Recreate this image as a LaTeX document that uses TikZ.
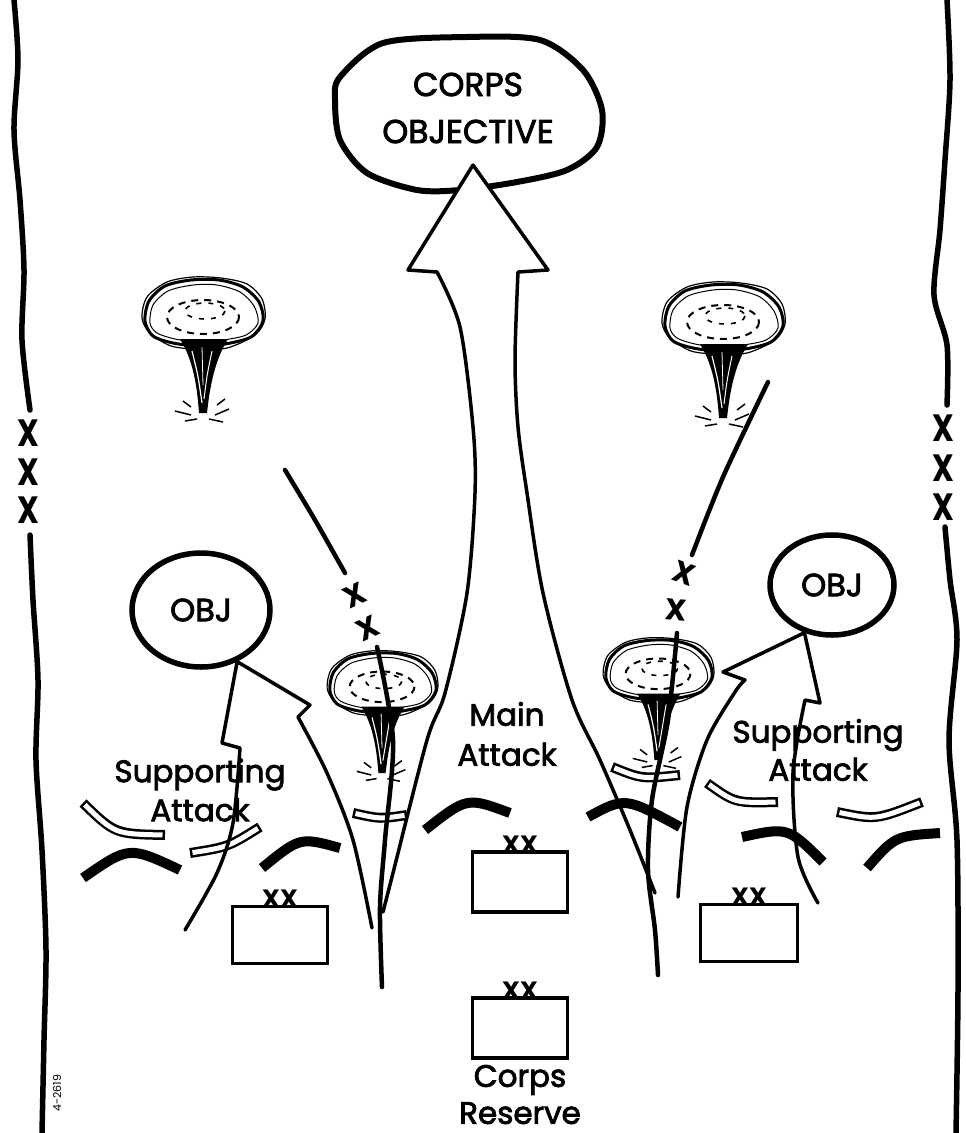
\documentclass[tikz,border=0pt]{standalone}
\usepackage{fontspec}
\setmainfont{Poppins}
\newfontfamily\lettering{Poppins}[FakeBold=2.5]
\usepackage{tikz}
\usetikzlibrary{arrows,
                positioning,
                shapes}
\tikzstyle{border} = [line width=5.5pt, line cap=round]
\tikzstyle{boundary} = [line width=4.5pt, line cap=round]
\tikzstyle{attack} = [line width=3.5pt, line join=round, line cap=round]
\tikzstyle{friendly} = [line width=10pt]
\tikzstyle{enemyout} = [line width=10pt]
\tikzstyle{enemyin} = [white, line width=5pt, shorten <=2.5pt, shorten >=2.5pt]
\tikzstyle{objective} = [ellipse, draw, line width=5.5pt, inner sep=0pt, font=\fontsize{32}{32}\lettering]
\tikzstyle{division} = [rectangle, draw, line width=3.5pt, minimum width=95pt, minimum height=57pt, inner sep=0pt]
\tikzstyle{divmark} = [inner sep=0pt, font=\fontsize{25}{25}\selectfont\bfseries]
\tikzstyle{corpsmark} = [inner sep=0pt, xscale=0.8, font=\fontsize{38}{38}\selectfont\bfseries]
\tikzstyle{boundx} = [inner sep=0pt, font=\fontsize{30}{30}\selectfont\bfseries]
\tikzstyle{words} = [align=center, inner sep=0pt, font=\fontsize{31}{40}\lettering]

% hollow arc for the enemy positions
\newcommand{\enemyarc}[3]{%
    \draw [enemyout] #1 .. controls #2 .. #3;
    \draw [enemyin] #1 .. controls #2 .. #3;}

% nuclear burst, centred on the cap
\newcommand{\mushroom}[3]{%
    \begin{scope}[shift={(#1,#2)}, scale=#3]
        \draw [line width=3pt] plot [smooth cycle] coordinates {(-58,6) (-54,-14) (-38,-29) (-12,-35) (16,-35) (40,-28)
            (56,-13) (60,6) (48,22) (22,29) (-4,31) (-30,28) (-50,21)};
        \draw [line width=1.2pt] plot [smooth cycle] coordinates {(-61,3) (-56,-18) (-36,-33) (-10,-38) (18,-37) (44,-31)
            (59,-16) (62,4) (52,20) (24,33) (-6,34) (-32,31) (-53,18)};
        \draw [line width=1pt] plot [smooth cycle] coordinates {(-53,8) (-50,-10) (-35,-24) (-10,-30) (14,-30) (37,-23)
            (51,-9) (55,8) (43,20) (20,25) (-5,27) (-28,24) (-46,18)};
        \draw [line width=2pt, dash pattern=on 7pt off 6pt] (0,2) ellipse (36 and 17);
        \draw [line width=1.6pt, dash pattern=on 5pt off 7pt] (2,-4) ellipse (20 and 8);
        \fill (-23,24) .. controls (-10,45) and (-6,70) .. (-4,98)
            -- (4,98) .. controls (7,70) and (12,45) .. (25,24) -- cycle;
        \draw [white, line width=1.2pt] (-11,36) .. controls (-5,60) .. (-1,88);
        \draw [white, line width=1pt] (9,36) .. controls (4,60) .. (1,84);
        \draw [white, line width=0.8pt] (-1,32) -- (0,70);
        \draw [line width=1.5pt] (-28,96) -- (-12,100) (12,100) -- (26,94)
            (-18,106) -- (-6,104) (6,104) -- (20,107) (-20,86) -- (-12,92) (14,90) -- (22,84);
    \end{scope}}

\begin{document}
\begin{tikzpicture}[x=1pt, y=-1pt]
    \useasboundingbox (0,0) rectangle (966,1133);

    % corps boundaries
    \draw [border] plot [smooth] coordinates {(14,0) (18,60) (14,130) (20,200) (24,270) (22,340) (30,410)};
    \draw [border] plot [smooth] coordinates {(30,535) (33,600) (38,680) (36,760) (42,850) (46,950) (44,1040) (42,1133)};
    \draw [border] plot [smooth] coordinates {(947,0) (950,80) (945,160) (940,230) (934,295) (947,345) (947,405)};
    \draw [border] plot [smooth] coordinates {(945,527) (950,580) (957,640) (949,740) (957,840) (958,990) (956,1133)};
    \node [corpsmark] (lx1) at (28,433) {X};
    \node [corpsmark] (lx2) at (28,472) {X};
    \node [corpsmark] (lx3) at (28,510) {X};
    \node [corpsmark] (rx1) at (943,428) {X};
    \node [corpsmark] (rx2) at (943,468) {X};
    \node [corpsmark] (rx3) at (943,507) {X};
    \node [rotate=90, inner sep=0pt, font=\fontsize{11}{11}\selectfont] (figno) at (57,1093) {4-2619};

    % corps objective
    \draw [line width=6pt] plot [smooth cycle] coordinates {(340,77) (383,43) (467,37) (540,40) (583,70) (602,110)
        (597,147) (567,170) (517,182) (460,190) (417,190) (367,173) (340,140) (335,100)};
    \node [words, font=\fontsize{33}{47}\lettering] (corpsobj) at (468,108) {CORPS\\OBJECTIVE};
    \coordinate (maintip) at (473,165);
    \fill [white] (408,270) -- (maintip) -- (548,270) -- cycle;

    % forward positions
    \draw [friendly] (83,878) .. controls (129,846) .. (180,870);
    \draw [friendly] (262,868) .. controls (300,837) .. (340,848);
    \draw [friendly] (425,830) .. controls (467,797) .. (510,813);
    \draw [friendly] (588,817) .. controls (625,797) .. (680,827);
    \draw [friendly] (742,837) .. controls (788,827) .. (823,862);
    \draw [friendly] (867,868) .. controls (895,836) .. (940,833);
    \enemyarc{(83,803)}{(115,834)}{(165,835)}
    \enemyarc{(190,853)}{(228,847)}{(260,827)}
    \enemyarc{(353,813)}{(380,819)}{(407,815)}
    \enemyarc{(612,767)}{(642,779)}{(680,775)}
    \enemyarc{(707,783)}{(735,803)}{(778,802)}
    \enemyarc{(837,812)}{(876,820)}{(922,802)}

    % main attack
    \draw [attack] plot [smooth] coordinates {(383,912) (393,873) (427,740) (445,693) (467,593) (475,493) (473,427) (460,327) (437,272)}
        -- (408,270) -- (maintip) -- (548,270)
        -- plot [smooth] coordinates {(518,272) (515,360) (518,427) (527,493) (543,593) (572,700) (600,760) (630,830) (655,893)};

    % bursts
    \mushroom{203}{315}{1}
    \mushroom{723}{320}{1}
    \mushroom{382}{685}{0.9}
    \mushroom{658}{672}{0.9}

    % division boundaries
    \draw [boundary] plot [smooth] coordinates {(285,470) (315,520) (345,573)};
    \node [boundx, rotate=25] (blx1) at (355,595) {X};
    \node [boundx, rotate=25] (blx2) at (368,628) {X};
    \draw [boundary] plot [smooth] coordinates {(377,647) (393,740) (385,840) (380,907) (382,987)};
    \draw [boundary] plot [smooth] coordinates {(768,382) (723,477) (692,555)};
    \node [boundx, rotate=-20] (brx1) at (684,573) {X};
    \node [boundx, rotate=-5] (brx2) at (676,610) {X};
    \draw [boundary] plot [smooth] coordinates {(677,633) (668,720) (652,800) (648,870) (655,930) (658,975)};

    % objectives
    \node [objective, minimum width=138pt, minimum height=114pt] (objL) at (201,610) {OBJ};
    \node [objective, minimum width=124pt, minimum height=100pt] (objR) at (832,585) {OBJ};

    % labels
    \node [words] (mainlabel) at (507,734) {Main\\Attack};
    \node [words, font=\fontsize{31}{39}\lettering] (suppL) at (200,790) {Supporting\\Attack};
    \node [words, font=\fontsize{31}{38}\lettering] (suppR) at (818,750) {Supporting\\Attack};

    % supporting attacks
    \draw [attack] plot [smooth] coordinates {(185,930) (217,873) (233,823) (240,748)}
        -- (222,743) -- (objL.-55) -- (310,705)
        -- plot [smooth] coordinates {(298,717) (327,773) (353,840) (372,928)};
    \draw [attack] plot [smooth] coordinates {(678,897) (687,807) (707,740) (735,692) (745,680)}
        -- (723,672) -- (objR.-120) -- (820,703)
        -- plot [smooth] coordinates {(805,700) (793,773) (798,857) (818,903)};

    % divisions
    \node [division] (divL) at (280,935) {};
    \node [division, minimum height=60pt] (divM) at (520,882) {};
    \node [division, minimum width=97pt] (divR) at (749,933) {};
    \node [division, minimum height=60pt] (reserve) at (520,1028) {};
    \node [divmark, above=-3pt of divL] (xxL) {XX};
    \node [divmark, above=-3pt of divM] (xxM) {XX};
    \node [divmark, above=-3pt of divR] (xxR) {XX};
    \node [divmark, above=-3pt of reserve] (xxres) {XX};
    \node [words, font=\fontsize{31}{37}\lettering, below=5pt of reserve] (reservelabel) {Corps\\Reserve};
\end{tikzpicture}
\end{document}
